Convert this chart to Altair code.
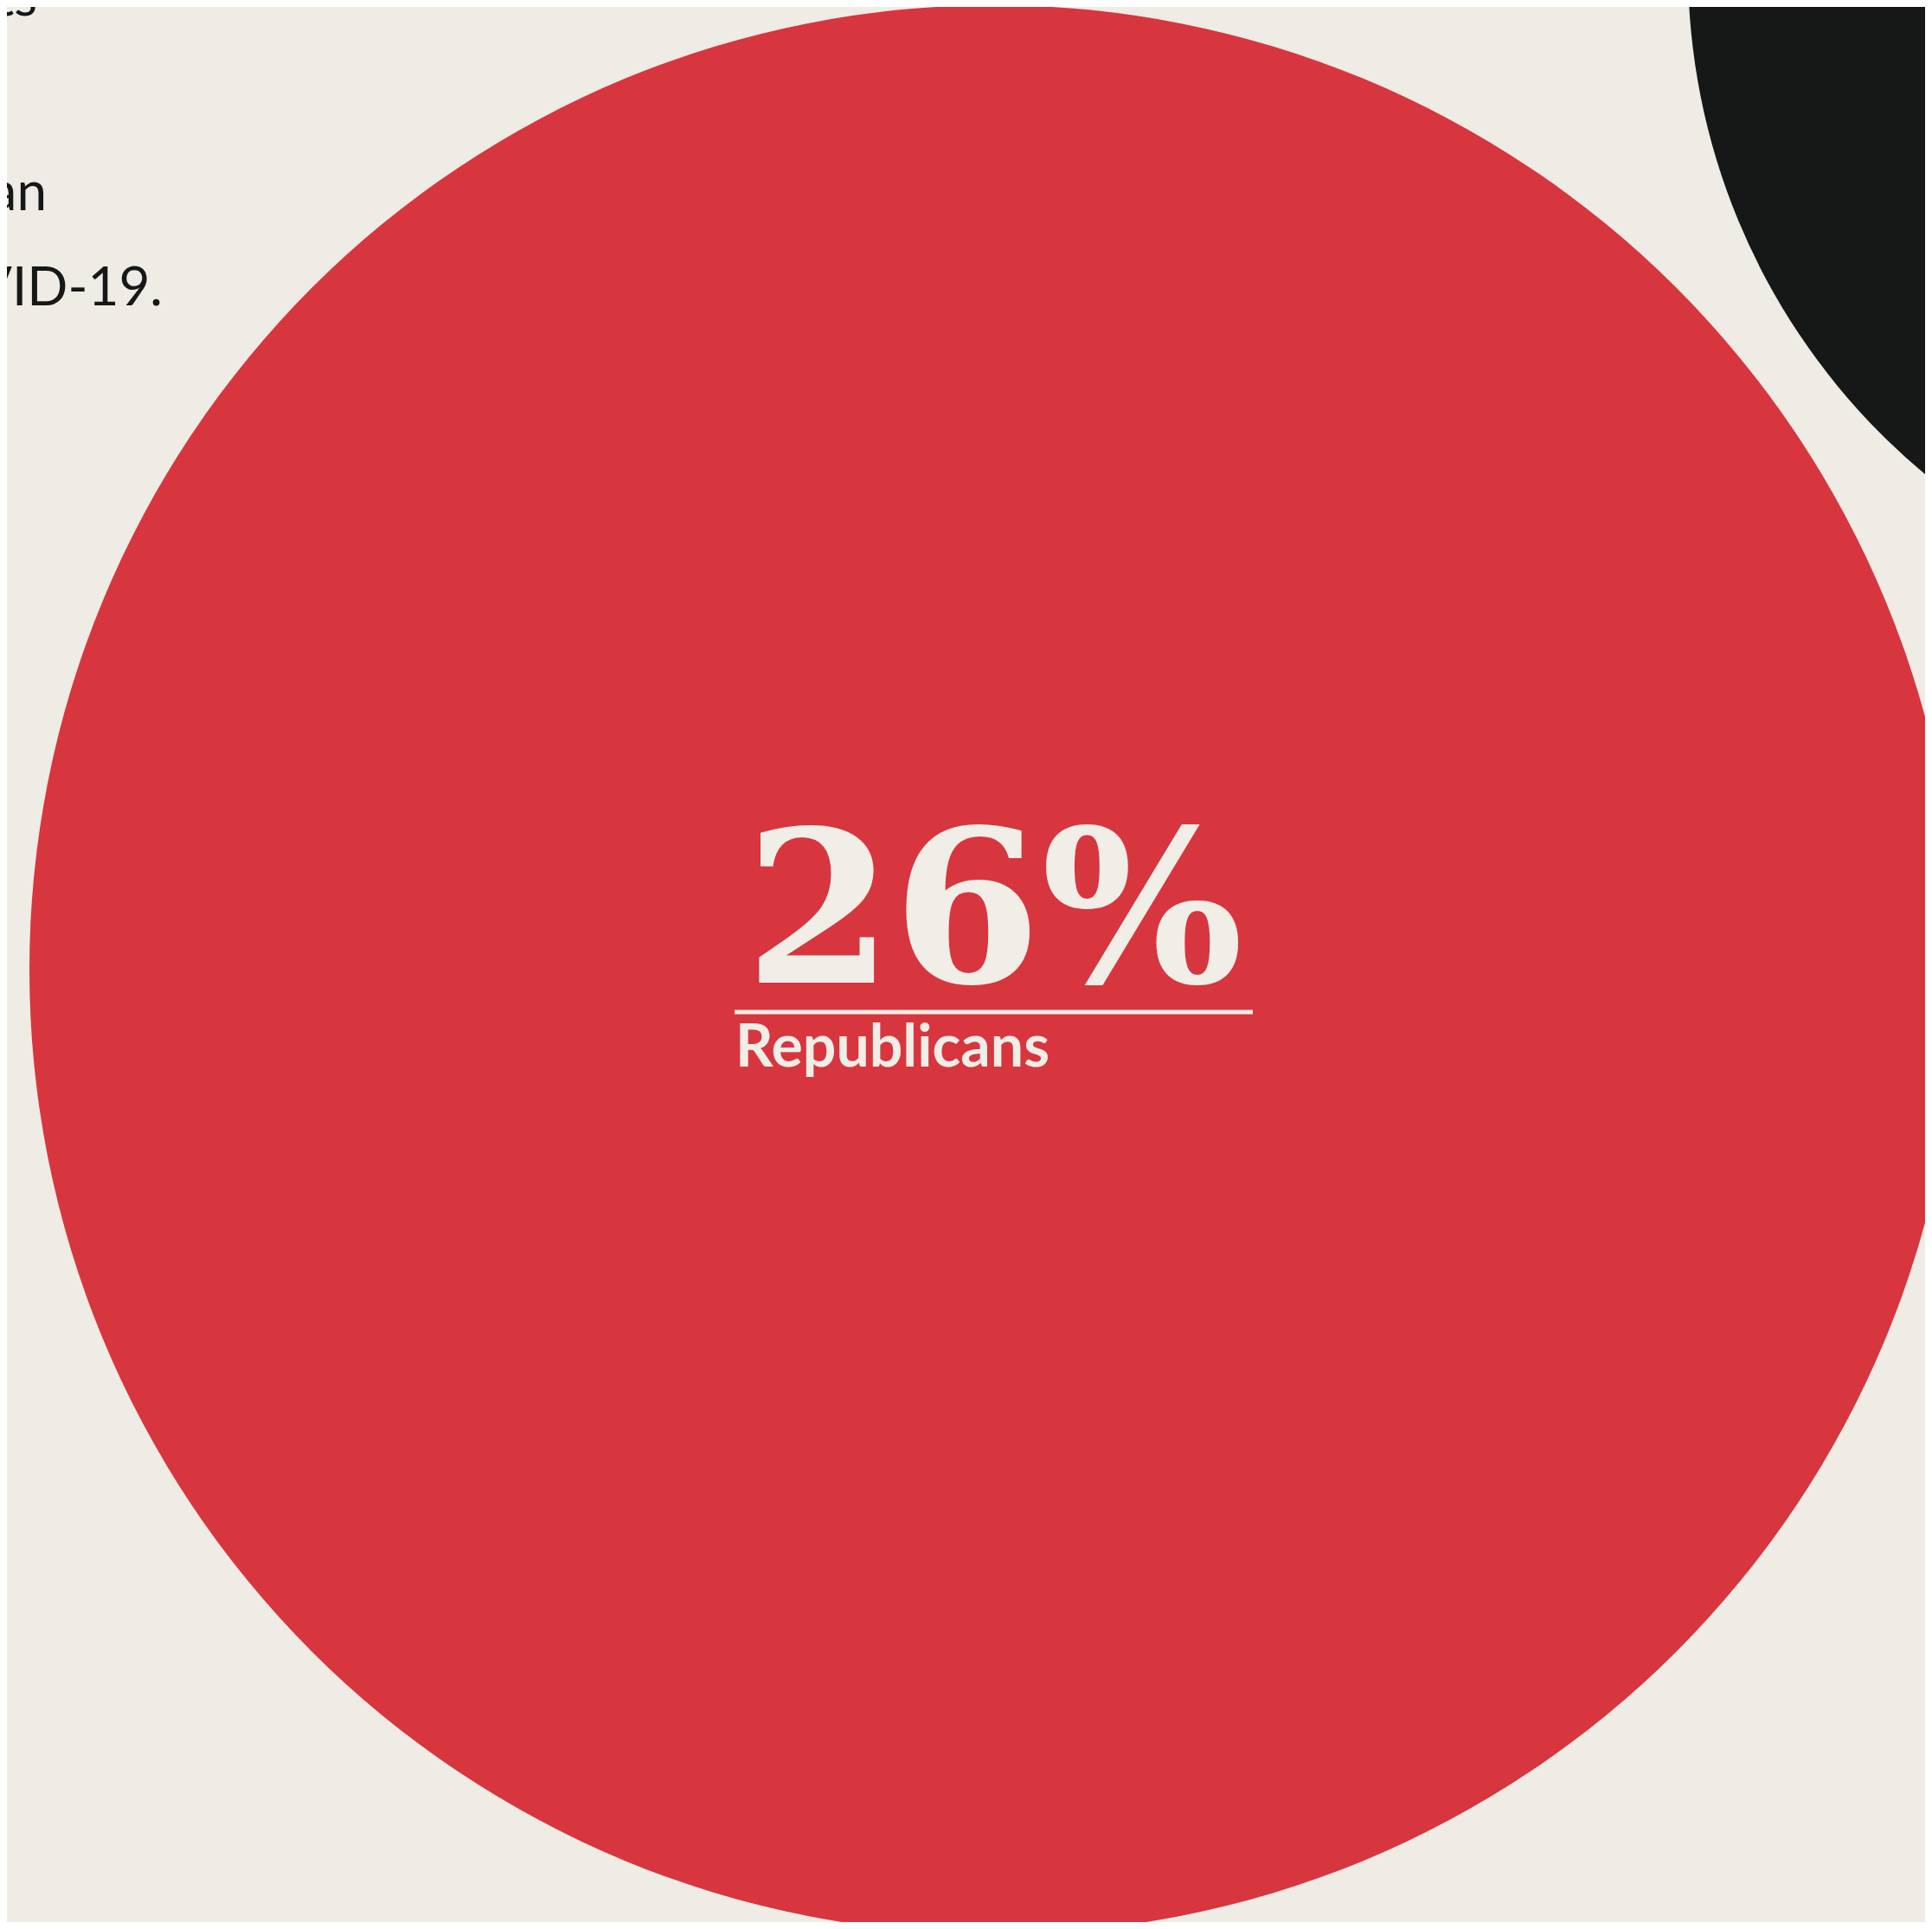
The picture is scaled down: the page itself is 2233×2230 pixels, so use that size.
import altair as alt
import pandas as pd

# ---------------- data ----------------
groups = ["Republicans"]
shares = [26]
share_labels = ["26%"]
intro_fragments = ["ts", "an", "COVID-19."]

# ---------------- layout (reference pixel space) ----------------
PAGE_W, PAGE_H = 2233, 2230
OFF = 8                              # page margin on every side
W, H = PAGE_W - 2 * OFF, PAGE_H - 2 * OFF

BG = "#EFEBE5"
RED = "#D7363E"
INK = "#161818"
CREAM = "#F1EDE7"

red_circle = {"x": 1149, "y": 1121, "r": 1115}
black_circle = {"x": 2713, "y": -37, "r": 762}

intro_x = [43, 54, 188]
intro_y = [18, 243, 353]

label_x, label_y = 1149, 1136
rule_x, rule_x2, rule_y = 849, 1448, 1170
group_x, group_y = 850, 1233

xs = alt.Scale(domain=[OFF, OFF + W], nice=False, zero=False)
ys = alt.Scale(domain=[OFF, OFF + H], nice=False, zero=False, reverse=True)


def X(f):
    return alt.X(f, type="quantitative", scale=xs, axis=None)


def Y(f):
    return alt.Y(f, type="quantitative", scale=ys, axis=None)


# Vega circle symbol: radius = sqrt(size) / 2  ->  size = (2r)^2
circles_df = pd.DataFrame({
    "group": ["Other", groups[0]],
    "x": [black_circle["x"], red_circle["x"]],
    "y": [black_circle["y"], red_circle["y"]],
    "area": [(2 * black_circle["r"]) ** 2, (2 * red_circle["r"]) ** 2],
})

size_enc = alt.Size("area:Q", scale=alt.Scale(domain=[0, 1e7], range=[0, 1e7]), legend=None)

black = alt.Chart(circles_df.iloc[[0]]).mark_circle(
    opacity=1, color=INK, clip=True, strokeWidth=0
).encode(x=X("x"), y=Y("y"), size=size_enc)

red = alt.Chart(circles_df.iloc[[1]]).mark_circle(
    opacity=1, color=RED, clip=True, strokeWidth=0
).encode(x=X("x"), y=Y("y"), size=size_enc)

intro_df = pd.DataFrame({"text": intro_fragments, "x": intro_x, "y": intro_y})
intro = alt.Chart(intro_df).mark_text(
    align="right", baseline="alphabetic", font="Lato", fontSize=62,
    fontWeight=400, color=INK, clip=True
).encode(x=X("x"), y=Y("y"), text="text:N")

pct_df = pd.DataFrame({"text": share_labels, "share": shares, "x": [label_x], "y": [label_y]})
pct = alt.Chart(pct_df).mark_text(
    align="center", baseline="alphabetic", font="DejaVu Serif", fontSize=246,
    fontWeight="bold", color=CREAM
).encode(x=X("x"), y=Y("y"), text="text:N")

rule_df = pd.DataFrame({"x": [rule_x], "x2": [rule_x2], "y": [rule_y]})
rule = alt.Chart(rule_df).mark_rule(color=CREAM, strokeWidth=5).encode(
    x=X("x"), x2="x2:Q", y=Y("y"))

grp_df = pd.DataFrame({"text": groups, "x": [group_x], "y": [group_y]})
grp = alt.Chart(grp_df).mark_text(
    align="left", baseline="alphabetic", font="Lato", fontSize=68,
    fontWeight="bold", color=CREAM
).encode(x=X("x"), y=Y("y"), text="text:N")

chart = alt.layer(black, red, intro, pct, rule, grp).properties(
    width=W, height=H,
    autosize=alt.AutoSizeParams(type="none"),
    padding=0,
    background=BG,
).configure_view(stroke=None, fill=BG)

chart.save("out.html", embed_options={"renderer": "svg", "actions": False})
